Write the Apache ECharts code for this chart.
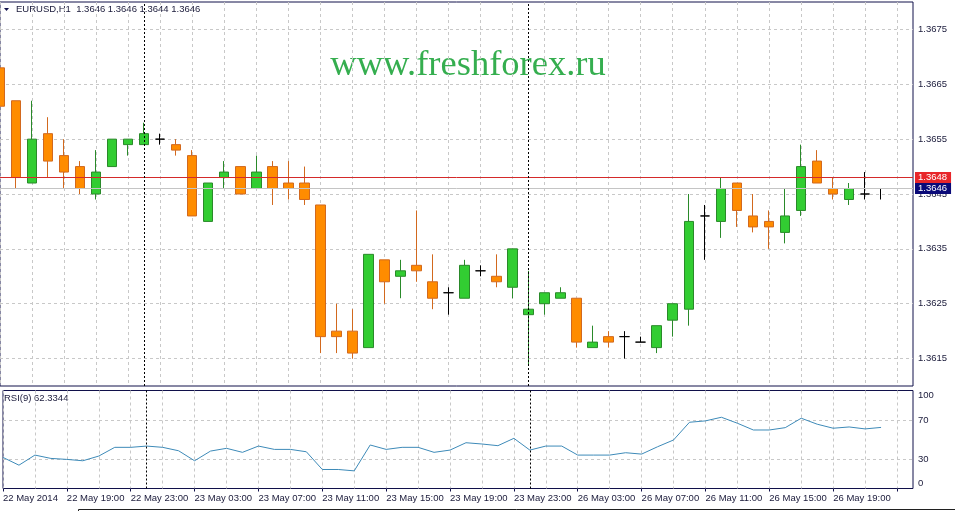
<!DOCTYPE html>
<html>
<head>
<meta charset="utf-8">
<title>EURUSD,H1</title>
<script src="https://cdn.jsdelivr.net/npm/echarts@6/dist/echarts.min.js"></script>
<style>
  html, body { margin: 0; padding: 0; background: #fff; }
  #main { width: 955px; height: 511px; }
</style>
</head>
<body>
<div id="main"></div>
<script>
// hourly bars, 22 May 15:00 .. 26 May 22:00 (weekend skipped)
const categories = [
  "22 May 15:00", "22 May 16:00", "22 May 17:00", "22 May 18:00", "22 May 19:00", "22 May 20:00",
  "22 May 21:00", "22 May 22:00", "22 May 23:00", "23 May 00:00", "23 May 01:00", "23 May 02:00",
  "23 May 03:00", "23 May 04:00", "23 May 05:00", "23 May 06:00", "23 May 07:00", "23 May 08:00",
  "23 May 09:00", "23 May 10:00", "23 May 11:00", "23 May 12:00", "23 May 13:00", "23 May 14:00",
  "23 May 15:00", "23 May 16:00", "23 May 17:00", "23 May 18:00", "23 May 19:00", "23 May 20:00",
  "23 May 21:00", "23 May 22:00", "23 May 23:00", "26 May 00:00", "26 May 01:00", "26 May 02:00",
  "26 May 03:00", "26 May 04:00", "26 May 05:00", "26 May 06:00", "26 May 07:00", "26 May 08:00",
  "26 May 09:00", "26 May 10:00", "26 May 11:00", "26 May 12:00", "26 May 13:00", "26 May 14:00",
  "26 May 15:00", "26 May 16:00", "26 May 17:00", "26 May 18:00", "26 May 19:00", "26 May 20:00",
  "26 May 21:00", "26 May 22:00",
];
const firstLabel = "22 May 2014";

const opens = [
  1.3668, 1.3662, 1.3647, 1.3656, 1.3652, 1.3650, 1.3645, 1.3650, 1.3654, 1.3654,
  1.3655, 1.3654, 1.3652, 1.3640, 1.3648, 1.3650, 1.3646, 1.3650, 1.3647, 1.3647,
  1.3643, 1.3620, 1.3620, 1.3617, 1.3633, 1.3630, 1.3632, 1.3629, 1.3627, 1.3626,
  1.3631, 1.3630, 1.3628, 1.3623, 1.3625, 1.3626, 1.3626, 1.3617, 1.3619, 1.3619,
  1.3618, 1.3617, 1.3622, 1.3624, 1.3641, 1.3640, 1.3647, 1.3641, 1.3640, 1.3638,
  1.3642, 1.3651, 1.3646, 1.3644, 1.3645, 1.3646,
];
const closes = [
  1.3661, 1.3648, 1.3655, 1.3651, 1.3649, 1.3646, 1.3649, 1.3655, 1.3655, 1.3656,
  1.3655, 1.3653, 1.3641, 1.3647, 1.3649, 1.3645, 1.3649, 1.3646, 1.3646, 1.3644,
  1.3619, 1.3619, 1.3616, 1.3634, 1.3629, 1.3631, 1.3631, 1.3626, 1.3627, 1.3632,
  1.3631, 1.3629, 1.3635, 1.3624, 1.3627, 1.3627, 1.3618, 1.3618, 1.3618, 1.3619,
  1.3618, 1.3621, 1.3625, 1.3640, 1.3641, 1.3646, 1.3642, 1.3639, 1.3639, 1.3641,
  1.3650, 1.3647, 1.3645, 1.3646, 1.3645, 1.3646,
];
const lows = [
  1.3657, 1.3646, 1.3647, 1.3648, 1.3646, 1.3645, 1.3644, 1.3650, 1.3652, 1.3654,
  1.3654, 1.3652, 1.3641, 1.3640, 1.3646, 1.3645, 1.3646, 1.3643, 1.3644, 1.3643,
  1.3616, 1.3616, 1.3615, 1.3617, 1.3625, 1.3626, 1.3629, 1.3624, 1.3623, 1.3626,
  1.3630, 1.3628, 1.3626, 1.3614, 1.3623, 1.3626, 1.3617, 1.3617, 1.3617, 1.3615,
  1.3618, 1.3616, 1.3619, 1.3621, 1.3633, 1.3637, 1.3639, 1.3638, 1.3635, 1.3636,
  1.3641, 1.3647, 1.3644, 1.3643, 1.3644, 1.3644,
];
const highs = [
  1.3672, 1.3662, 1.3662, 1.3659, 1.3655, 1.3651, 1.3653, 1.3655, 1.3655, 1.3658,
  1.3656, 1.3655, 1.3653, 1.3647, 1.3651, 1.3650, 1.3652, 1.3651, 1.3651, 1.3650,
  1.3643, 1.3625, 1.3624, 1.3634, 1.3633, 1.3633, 1.3642, 1.3634, 1.3628, 1.3633,
  1.3632, 1.3634, 1.3635, 1.3631, 1.3627, 1.3628, 1.3626, 1.3621, 1.3620, 1.3620,
  1.3619, 1.3621, 1.3625, 1.3645, 1.3643, 1.3648, 1.3647, 1.3645, 1.3642, 1.3646,
  1.3654, 1.3653, 1.3648, 1.3647, 1.3649, 1.3646,
];
const rsi = [
  31.7, 23.8, 34.1, 30.7, 29.7, 28.3, 33.1, 42.0, 42.0, 43.3,
  42.0, 38.5, 28.3, 38.2, 41.0, 36.9, 43.3, 39.9, 39.9, 37.5,
  19.4, 19.4, 18.0, 44.4, 39.9, 42.0, 42.0, 36.9, 39.2, 46.7,
  45.4, 43.7, 51.2, 39.2, 43.3, 43.3, 34.1, 34.1, 34.1, 36.5,
  35.1, 42.6, 49.5, 67.6, 69.0, 72.7, 66.6, 59.7, 59.7, 62.1,
  71.7, 65.6, 61.5, 62.8, 60.8, 62.3344,
];
const priceTicks = ["1.3615", "1.3625", "1.3635", "1.3645", "1.3655", "1.3665", "1.3675"];
const rsiTicks = [0, 30, 70, 100];
const rsiLevels = [30, 70];
const askPrice = 1.3648;
const bidPrice = 1.3646;
const separators = [9, 33]; // day breaks

const myChart = echarts.init(document.getElementById("main"));

const font = "Liberation Sans";
const textColor = "#1a1a3a";
const frame = "#10104a";
const gridGray = "#c8c8c8";
const dash = [3, 3];

// two empty slots on the right, like the terminal leaves
const axisData = categories.concat(["", ""]);
const candles = opens.map((o, i) => [o, closes[i], lows[i], highs[i]]);

// only every other 5-pip tick gets a grid line
const priceLineColors = ["rgba(0,0,0,0)", gridGray];
const rsiLineColors = [];
for (let v = 0; v <= 100; v += 10) {
  rsiLineColors.push(rsiLevels.indexOf(v) >= 0 ? gridGray : "rgba(0,0,0,0)");
}

const sepLines = separators.map((i) => ({ xAxis: categories[i] }));
const sepStyle = { color: "#000", type: [2, 2], width: 1 };

// empty series that only carries a horizontal price line + tag on the axis side
function priceLineSeries(name, value, lineColor, bg) {
  return {
    name: name,
    type: "line",
    xAxisIndex: 0,
    yAxisIndex: 0,
    data: [],
    color: lineColor,
    itemStyle: { color: lineColor },
    lineStyle: { color: lineColor },
    markLine: {
      silent: true,
      symbol: "none",
      animation: false,
      lineStyle: { color: lineColor, type: "solid", width: 1, opacity: 1 },
      emphasis: { disabled: true },
      label: {
        show: true,
        position: "end",
        distance: 2,
        formatter: value.toFixed(4),
        color: "#fff",
        backgroundColor: bg,
        padding: [1, 4, 0, 3],
        fontFamily: font,
        fontSize: 9.5,
      },
      data: [[{ coord: [0, value] }, { coord: [axisData.length - 1, value] }]],
    },
  };
}

let option = {
  animation: false,
  grid: [
    { left: 0, right: 42, top: 2, height: 384, show: true, borderColor: frame, borderWidth: 1 },
    { left: 0, right: 42, top: 390.5, height: 98, show: true, borderColor: frame, borderWidth: 1 },
  ],
  xAxis: [
    {
      type: "category",
      gridIndex: 0,
      data: axisData,
      boundaryGap: false,
      axisLine: { show: false },
      axisTick: { show: false },
      axisLabel: { show: false },
      splitLine: { show: true, interval: 1, lineStyle: { color: gridGray, type: dash } },
    },
    {
      type: "category",
      gridIndex: 1,
      data: axisData,
      boundaryGap: false,
      axisLine: { show: false },
      axisTick: { show: true, interval: 3, length: 3, lineStyle: { color: frame } },
      axisLabel: {
        interval: 3,
        align: "left",
        margin: 5,
        color: textColor,
        fontFamily: font,
        fontSize: 9.5,
        formatter: (v, i) => (i === 0 ? firstLabel : v),
      },
      splitLine: { show: true, interval: 1, lineStyle: { color: gridGray, type: dash } },
    },
  ],
  yAxis: [
    {
      type: "value",
      gridIndex: 0,
      position: "right",
      min: 1.361,
      max: 1.368,
      interval: 0.0005,
      axisLine: { show: false },
      axisTick: { show: false },
      axisLabel: {
        margin: 5,
        color: textColor,
        fontFamily: font,
        fontSize: 9.5,
        formatter: (v) => {
          const s = v.toFixed(4);
          return priceTicks.indexOf(s) >= 0 ? s : "";
        },
      },
      splitLine: { show: true, lineStyle: { color: priceLineColors, type: dash } },
    },
    {
      type: "value",
      gridIndex: 1,
      position: "right",
      min: 0,
      max: 100,
      interval: 10,
      axisLine: { show: false },
      axisTick: { show: false },
      axisLabel: {
        margin: 5,
        color: textColor,
        fontFamily: font,
        fontSize: 9.5,
        verticalAlignMaxLabel: "top",
        verticalAlignMinLabel: "bottom",
        formatter: (v) => (rsiTicks.indexOf(v) >= 0 ? String(v) : ""),
      },
      splitLine: { show: true, lineStyle: { color: rsiLineColors, type: dash } },
    },
  ],
  series: [
    priceLineSeries("bid", bidPrice, "#c4c4c4", "#0a0a78"),
    priceLineSeries("ask", askPrice, "#d42a2a", "#e8262a"),
    {
      name: "EURUSD,H1",
      type: "candlestick",
      xAxisIndex: 0,
      yAxisIndex: 0,
      data: candles,
      barWidth: 10,
      itemStyle: {
        color: "#32cd32",
        color0: "#ff8c00",
        borderColor: "#2a8a2a",
        borderColor0: "#d2691e",
        borderColorDoji: "#000000",
        borderWidth: 1,
      },
      markLine: {
        silent: true,
        symbol: "none",
        animation: false,
        label: { show: false },
        lineStyle: sepStyle,
        data: sepLines,
      },
    },
    {
      name: "RSI(9)",
      type: "line",
      xAxisIndex: 1,
      yAxisIndex: 1,
      data: rsi,
      symbol: "none",
      lineStyle: { color: "#3d8ab8", width: 1 },
      markLine: {
        silent: true,
        symbol: "none",
        animation: false,
        label: { show: false },
        lineStyle: sepStyle,
        data: sepLines,
      },
    },
  ],
  graphic: [
    {
      type: "polygon",
      shape: { points: [[4, 8], [9, 8], [6.5, 11]] },
      style: { fill: "#10104a" },
    },
    {
      type: "text",
      left: 16,
      top: 4,
      style: {
        text: "EURUSD,H1  " + [opens[55], highs[55], lows[55], closes[55]].map((v) => v.toFixed(4)).join(" "),
        fill: textColor,
        font: "9.5px " + font,
      },
    },
    {
      type: "text",
      x: 468,
      y: 65,
      style: {
        text: "www.freshforex.ru",
        fill: "#35ae4f",
        font: "36.5px 'Liberation Serif'",
        align: "center",
        verticalAlign: "middle",
      },
    },
    {
      type: "text",
      left: 4,
      top: 393,
      style: {
        text: "RSI(9) " + rsi[rsi.length - 1].toFixed(4),
        fill: textColor,
        font: "9.5px " + font,
      },
    },
    {
      type: "polyline",
      shape: { points: [[78.5, 511], [78.5, 509.5], [955, 509.5]] },
      style: { stroke: "#202020", lineWidth: 1, fill: null },
    },
  ],
};
myChart.setOption(option);
</script>
</body>
</html>
